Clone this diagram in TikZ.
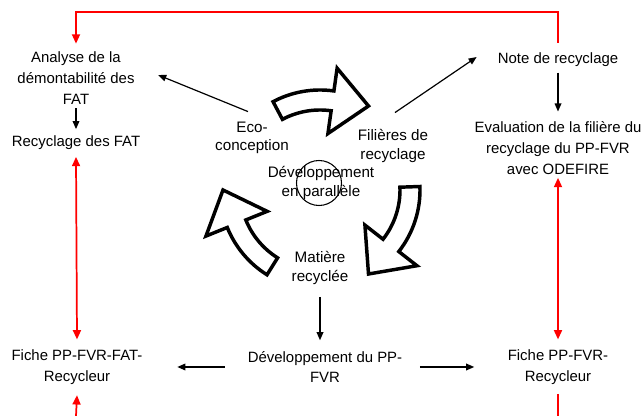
\documentclass[tikz,border=0pt]{standalone}
\usepackage{fontspec}
\setmainfont{Liberation Sans}
\usetikzlibrary{arrows.meta}

\begin{document}
\begin{tikzpicture}[x=0.75pt, y=0.75pt,
  every node/.style={font=\fontsize{11.2}{15.5}\selectfont, align=center, inner sep=0pt},
  cyclelabel/.style={font=\fontsize{11.4}{14}\selectfont},
  blockarrow/.style={draw=black, line width=2.6pt, line join=miter, fill=white},
  blackarrow/.style={-{Triangle[length=6pt,width=5pt]}, line width=0.9pt},
  redarrow/.style={-{Triangle[length=7pt,width=6pt]}, red, line width=1.3pt},
  redboth/.style={{Triangle[length=7pt,width=6pt]}-{Triangle[length=7pt,width=6pt]}, red, line width=1.3pt},
  redline/.style={red, line width=1.3pt}]

\useasboundingbox (0,0) rectangle (642,416);

% Cycle of block arrows
\foreach \rot/\span in {0/118,-120/122,-240/118} {
  \begin{scope}[shift={(320,226)}, rotate=\rot]
    \draw[blockarrow] (\span:100) arc[start angle=\span, end angle=82, radius=100] -- (82:123) -- (60:97) -- (82:57) -- (82:80) arc[start angle=82, end angle=\span, radius=80] -- cycle;
  \end{scope}
}

% Circle in the middle
\node[draw, circle, minimum size=33.75pt, line width=0.8pt] (rond) at (319,233) {};

% Cycle labels
\node[cyclelabel] (eco) at (252,278) {Eco-\\conception};
\node[cyclelabel] (fil) at (393,270) {Filières de\\recyclage};
\node[cyclelabel] (par) at (321,233) {Développement\\en parallèle};
\node[cyclelabel] (mat) at (320,148) {Matière\\recyclée};

% Left column
\node (ana) at (76,338) {Analyse de la\\démontabilité des\\FAT};
\node (recyc) at (76,273) {Recyclage des FAT};
\node (fichefat) at (77,49) {Fiche PP-FVR-FAT-\\Recycleur};

% Right column
\node (note) at (558,356) {Note de recyclage};
\node (eval) at (558,268) {Evaluation de la filière du\\recyclage du PP-FVR\\avec ODEFIRE};
\node (fichepp) at (558,49) {Fiche PP-FVR-\\Recycleur};

% Bottom middle
\node (dev) at (325,49) {Développement du PP-\\FVR};

% Free ends of the red lines
\coordinate (topL) at (76,404);
\coordinate (botL) at (76,0);
\coordinate (botR) at (558,0);

% Red loop over the top
\draw[redarrow] ([yshift=7.5pt]note.north) |- (topL) -- ([yshift=6pt]ana.north);

% Left column links
\draw[blackarrow] ([yshift=-3pt]ana.south) -- ([yshift=5pt]recyc.north);
\draw[redboth] ([yshift=-5pt]recyc.south) -- ([yshift=7.5pt]fichefat.north);
\draw[redarrow] (botL) -- ([yshift=-8pt]fichefat.south);

% Right column links
\draw[blackarrow] ([yshift=-4pt]note.south) -- ([yshift=7.5pt]eval.north);
\draw[redboth] ([yshift=-2.5pt]eval.south) -- ([yshift=7.5pt]fichepp.north);
\draw[redline] ([yshift=-7pt]fichepp.south) -- (botR);

% Links from the cycle
\draw[blackarrow] ([xshift=-3pt,yshift=7.5pt]eco.north) -- ([xshift=17.6pt,yshift=2.2pt]ana.east);
\draw[blackarrow] ([xshift=1.5pt,yshift=12.5pt]fil.north) -- ([xshift=-15.7pt,yshift=2.2pt]note.west);
\draw[blackarrow] ([yshift=-9pt]mat.south) -- ([yshift=8pt]mat.south |- dev.north);

% Links from the development
\draw[blackarrow] ([xshift=-17pt]dev.west) -- ([xshift=26pt]fichefat.east);
\draw[blackarrow] ([xshift=13pt]dev.east) -- ([xshift=-25pt]fichepp.west);

\end{tikzpicture}
\end{document}
